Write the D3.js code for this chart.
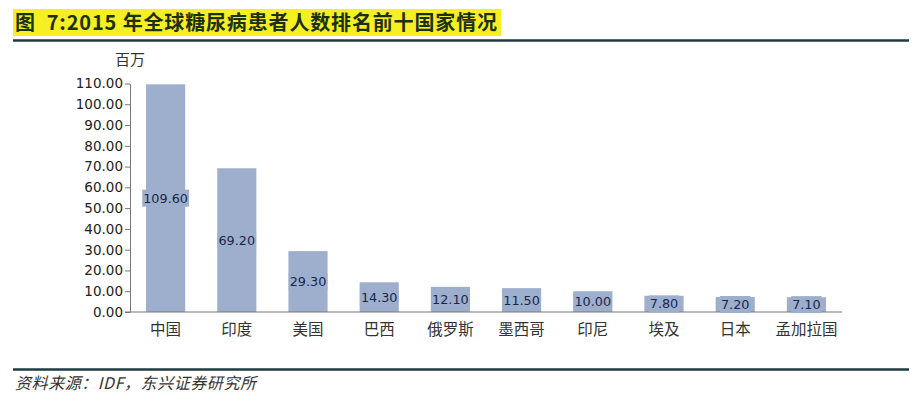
<!DOCTYPE html>
<html><head><meta charset="utf-8">
<script src="https://cdn.jsdelivr.net/npm/d3@7"></script>
<style>
html,body{margin:0;padding:0;background:#fff;}
svg{display:block;font-family:"Noto Sans CJK SC","Noto Sans",sans-serif;}
</style></head>
<body><svg id="c" width="915" height="404"></svg>
<script>
const categories = ["中国","印度","美国","巴西","俄罗斯","墨西哥","印尼","埃及","日本","孟加拉国"];
const values = [109.6,69.2,29.3,14.3,12.1,11.5,10.0,7.8,7.2,7.1];
const yTicks = [0,10,20,30,40,50,60,70,80,90,100,110];
const titleText = "图  7:2015 年全球糖尿病患者人数排名前十国家情况";
const unitText = "百万";
const sourceText = "资料来源：IDF，东兴证券研究所";

const svg = d3.select("#c");
const barColor = "#9eafcd";

// Title with highlight
svg.append("rect").attr("x",13).attr("y",9).attr("width",488).attr("height",27).attr("fill","#f5ef24");
svg.append("text").attr("x",15).attr("y",30)
  .attr("font-size",20).attr("font-weight","bold").attr("fill","#1d3112")
  .attr("font-family","'Noto Sans CJK SC',sans-serif")
  .attr("textLength",482).attr("lengthAdjust","spacing")
  .attr("xml:space","preserve").style("white-space","pre").text(titleText);

svg.append("line").attr("x1",13).attr("x2",909).attr("y1",40.5).attr("y2",40.5).attr("stroke","#1f3a40").attr("stroke-width",2.5);
svg.append("line").attr("x1",13).attr("x2",909).attr("y1",369.5).attr("y2",369.5).attr("stroke","#1f3a40").attr("stroke-width",2.5);

svg.append("text").attr("x",15).attr("y",389).attr("font-size",16).attr("font-style","italic")
  .attr("fill","#333").attr("textLength",241).attr("lengthAdjust","spacing").text(sourceText);

const x = d3.scaleBand().domain(categories).range([130,842]).paddingInner(0.45).paddingOuter(0.225);
const y = d3.scaleLinear().domain([0,110]).range([312,83.5]);

const yAxis = svg.append("g").attr("transform","translate(130,0)")
  .call(d3.axisLeft(y).tickValues(yTicks).tickFormat(d3.format(".2f")).tickSize(5).tickSizeOuter(0));
yAxis.select(".domain").attr("stroke","#777");
yAxis.selectAll(".tick line").attr("stroke","#777");
yAxis.selectAll(".tick text").attr("fill","#222").attr("font-family","'DejaVu Sans',sans-serif").attr("x",-7).style("font-size","13.5px");

svg.append("text").attr("x",130).attr("y",65).attr("text-anchor","middle").attr("font-size",15).attr("fill","#333").text(unitText);

svg.selectAll("rect.bar").data(values).enter().append("rect").attr("class","bar")
  .attr("x",(d,i)=>x(categories[i])).attr("width",x.bandwidth())
  .attr("y",d=>y(d)).attr("height",d=>y(0)-y(d)).attr("fill",barColor);

// x axis baseline
svg.append("line").attr("x1",125).attr("x2",842).attr("y1",y(0)).attr("y2",y(0)).attr("stroke","#777").attr("stroke-width",1.2);

// category labels
svg.selectAll("text.cat").data(categories).enter().append("text").attr("class","cat")
  .attr("x",d=>x(d)+x.bandwidth()/2).attr("y",335).attr("text-anchor","middle")
  .attr("font-size",15.5).attr("fill","#333").text(d=>d);

// value labels
const lbl = svg.selectAll("g.lbl").data(values).enter().append("g").attr("class","lbl");
lbl.each(function(d,i){
  const g = d3.select(this);
  const cx = x(categories[i])+x.bandwidth()/2;
  const cy = (y(d)+y(0))/2;
  const t = g.append("text").attr("x",cx).attr("y",cy+4.5).attr("text-anchor","middle")
    .attr("font-size",12.8).attr("fill","#17264a").attr("font-family","'DejaVu Sans',sans-serif").text(d3.format(".2f")(d));
  const b = t.node().getBBox();
  g.insert("rect","text").attr("x",b.x-1).attr("y",b.y-1).attr("width",b.width+2).attr("height",b.height+2).attr("fill",barColor);
});
</script></body></html>
